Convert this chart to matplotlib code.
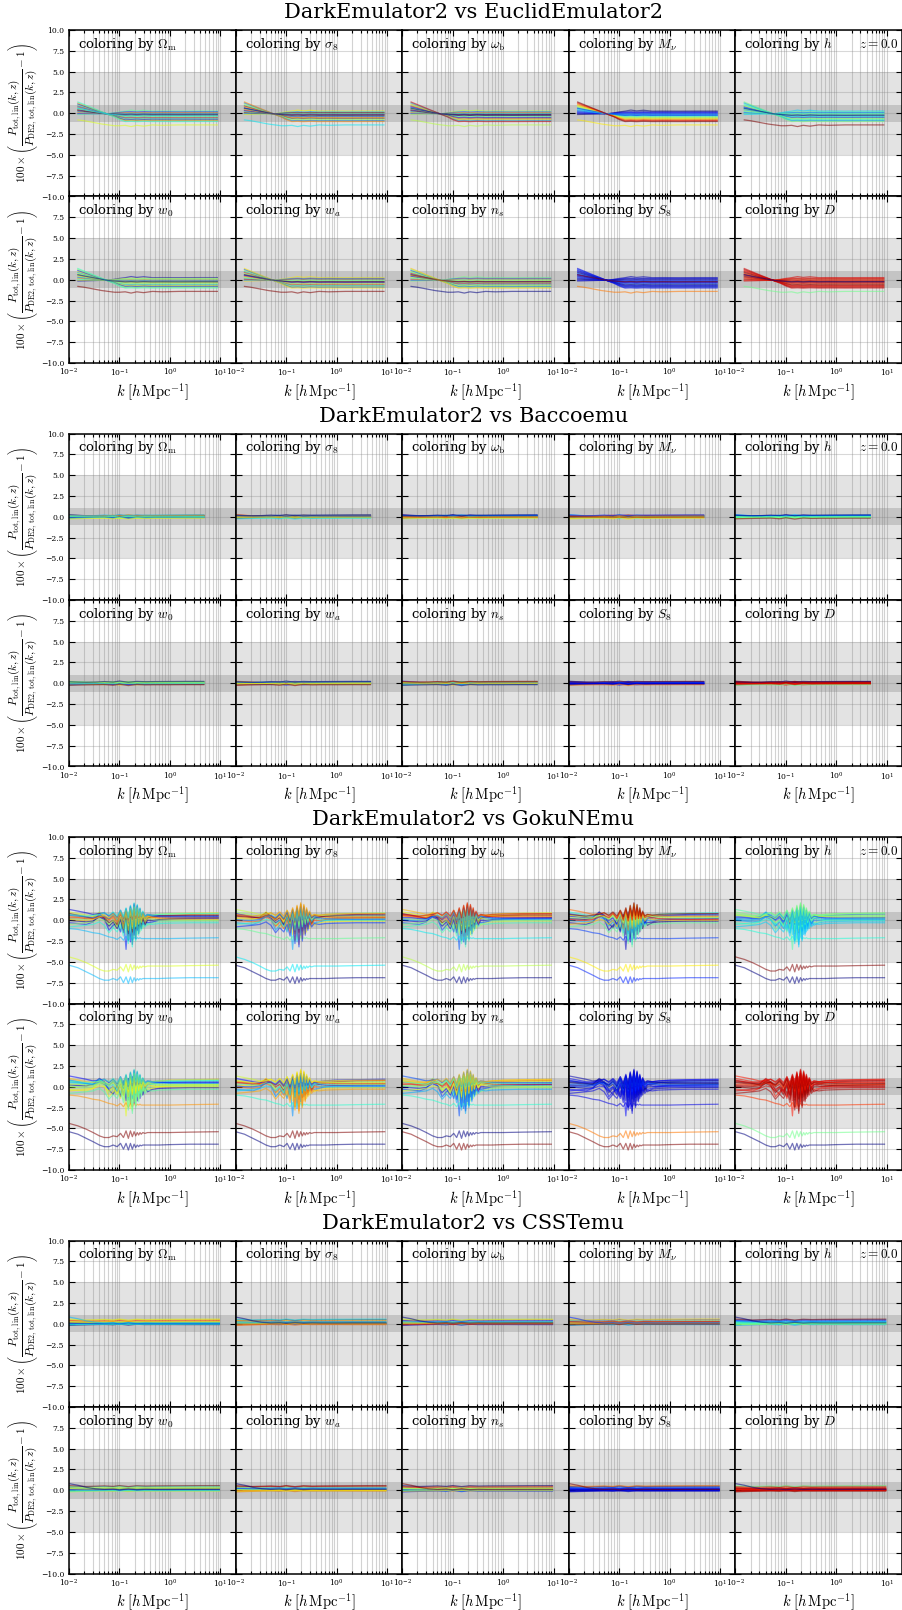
import numpy as np
import matplotlib
matplotlib.use("Agg")
import matplotlib.pyplot as plt
from matplotlib.colors import Normalize
from matplotlib.ticker import FuncFormatter, LogLocator, MultipleLocator, NullFormatter

plt.rcParams["font.family"] = "serif"
plt.rcParams["font.serif"] = ["DejaVu Serif"]
plt.rcParams["mathtext.fontset"] = "cm"
plt.rcParams["axes.unicode_minus"] = True

# ---------------------------------------------------------------------------
# Parameters of the 16 test cosmologies (one entry per curve)
# ---------------------------------------------------------------------------
OMEGA_M = [0.31, 0.27, 0.35, 0.29, 0.38, 0.25, 0.33, 0.30, 0.36, 0.28, 0.32, 0.26, 0.34, 0.30, 0.33, 0.29]
SIGMA_8 = [0.82, 0.76, 0.88, 0.79, 0.72, 0.85, 0.80, 0.74, 0.83, 0.87, 0.78, 0.81, 0.75, 0.84, 0.77, 0.71]
OMEGA_B = [0.0224, 0.0219, 0.0227, 0.0221, 0.0230, 0.0217, 0.0225, 0.0222,
           0.0218, 0.0228, 0.0223, 0.0226, 0.0220, 0.0229, 0.0224, 0.0216]
M_NU = [0.00, 0.03, 0.06, 0.09, 0.12, 0.15, 0.19, 0.23, 0.27, 0.31, 0.35, 0.40, 0.45, 0.50, 0.33, 0.08]
H0 = [0.66, 0.68, 0.64, 0.67, 0.70, 0.65, 0.69, 0.66, 0.63, 0.71, 0.67, 0.68, 0.65, 0.69, 0.78, 0.60]
W_0 = [-1.18, -0.95, -1.05, -0.90, -1.10, -0.98, -0.92, -1.02, -0.97, -1.08, -0.94, -1.15, -0.99, -1.03, -0.80, -1.20]
W_A = [0.10, -0.20, 0.30, -0.10, 0.00, 0.20, -0.30, 0.15, -0.05, 0.25, -0.15, 0.05, -0.25, 0.10, 0.35, -0.40]
N_S = [0.965, 0.950, 0.980, 0.960, 0.970, 0.945, 0.975, 0.955, 0.985, 0.960, 0.970, 0.950, 0.965, 0.975, 0.940, 0.990]
S_8 = [0.78, 0.80, 0.77, 0.79, 0.81, 0.78, 0.80, 0.79, 0.82, 0.77, 0.80, 0.78, 0.81, 0.79, 0.95, 1.00]
D_GROWTH = [0.97, 0.96, 0.98, 0.95, 0.97, 0.99, 0.96, 0.98, 0.95, 0.99, 0.97, 0.96, 0.98, 0.97, 0.85, 0.72]

PARAM_VALUES = [OMEGA_M, SIGMA_8, OMEGA_B, M_NU, H0, W_0, W_A, N_S, S_8, D_GROWTH]
PARAM_LABELS = [r"$\Omega_{\rm m}$", r"$\sigma_8$", r"$\omega_{\rm b}$", r"$M_\nu$", r"$h$",
                r"$w_0$", r"$w_a$", r"$n_s$", r"$S_8$", r"$D$"]

# ---------------------------------------------------------------------------
# Percent deviations 100*(P/P_DE2 - 1) at z = 0
# ---------------------------------------------------------------------------
EE2_K = [0.015, 0.02, 0.03, 0.045, 0.06, 0.08, 0.10, 0.13, 0.17, 0.22, 0.30, 0.45, 0.7, 1.5, 4.0, 8.7]
EE2_DEV = [
    [-0.15, -0.13, -0.10, -0.07, -0.05, 0.06, 0.16, 0.25, 0.38, 0.28, 0.36, 0.25, 0.26, 0.25, 0.26, 0.26],
    [-0.04, -0.04, -0.05, -0.05, -0.06, 0.02, 0.09, 0.15, 0.18, 0.14, 0.18, 0.15, 0.16, 0.15, 0.16, 0.16],
    [0.08, 0.05, 0.01, -0.03, -0.07, -0.02, 0.02, 0.06, 0.09, 0.05, 0.09, 0.06, 0.07, 0.06, 0.07, 0.07],
    [0.20, 0.14, 0.06, -0.02, -0.07, -0.06, -0.05, -0.04, -0.01, -0.05, -0.01, -0.04, -0.03, -0.04, -0.03, -0.03],
    [0.31, 0.23, 0.11, 0.00, -0.08, -0.10, -0.12, -0.14, -0.11, -0.15, -0.11, -0.14, -0.13, -0.14, -0.13, -0.13],
    [0.43, 0.32, 0.17, 0.02, -0.09, -0.14, -0.19, -0.23, -0.20, -0.24, -0.20, -0.23, -0.22, -0.23, -0.22, -0.22],
    [0.54, 0.41, 0.22, 0.04, -0.10, -0.18, -0.26, -0.33, -0.30, -0.34, -0.30, -0.33, -0.32, -0.33, -0.32, -0.32],
    [0.66, 0.50, 0.28, 0.06, -0.10, -0.21, -0.33, -0.42, -0.39, -0.43, -0.39, -0.42, -0.41, -0.42, -0.41, -0.41],
    [0.77, 0.59, 0.33, 0.07, -0.11, -0.25, -0.40, -0.52, -0.49, -0.53, -0.49, -0.52, -0.51, -0.52, -0.51, -0.51],
    [0.89, 0.68, 0.38, 0.09, -0.12, -0.29, -0.47, -0.62, -0.59, -0.63, -0.59, -0.62, -0.61, -0.62, -0.61, -0.61],
    [1.00, 0.77, 0.44, 0.11, -0.13, -0.33, -0.54, -0.71, -0.68, -0.72, -0.68, -0.71, -0.70, -0.71, -0.70, -0.70],
    [1.12, 0.86, 0.49, 0.13, -0.14, -0.37, -0.61, -0.81, -0.78, -0.82, -0.78, -0.81, -0.80, -0.81, -0.80, -0.80],
    [1.24, 0.95, 0.55, 0.15, -0.14, -0.41, -0.68, -0.90, -0.87, -0.91, -0.87, -0.90, -0.89, -0.90, -0.89, -0.89],
    [1.35, 1.04, 0.60, 0.17, -0.15, -0.45, -0.75, -1.00, -0.97, -1.01, -0.97, -1.00, -0.99, -1.00, -0.99, -0.99],
    [-0.80, -0.90, -1.10, -1.30, -1.40, -1.50, -1.50, -1.45, -1.60, -1.45, -1.55, -1.40, -1.45, -1.40, -1.40, -1.40],
    [0.60, 0.45, 0.25, 0.05, -0.09, -0.15, -0.20, -0.25, -0.22, -0.26, -0.22, -0.25, -0.24, -0.25, -0.24, -0.24],
]

BACCO_K = [0.01, 0.015, 0.022, 0.033, 0.05, 0.075, 0.1, 0.15, 0.22, 0.33, 0.5, 1.0, 2.0, 4.7]
BACCO_DEV = [
    [0.10, 0.08, 0.06, 0.05, 0.07, 0.12, 0.05, 0.15, 0.08, 0.12, 0.10, 0.10, 0.11, 0.12],
    [-0.05, -0.04, -0.03, -0.02, 0.00, -0.06, 0.02, -0.08, 0.00, -0.03, -0.02, -0.02, -0.01, -0.01],
    [0.20, 0.15, 0.10, 0.08, 0.06, 0.10, 0.02, 0.12, 0.05, 0.08, 0.06, 0.05, 0.05, 0.05],
    [-0.15, -0.12, -0.10, -0.08, -0.05, -0.10, -0.02, -0.15, -0.05, -0.10, -0.08, -0.07, -0.07, -0.08],
    [0.05, 0.04, 0.04, 0.05, 0.08, 0.02, 0.14, 0.00, 0.12, 0.05, 0.07, 0.08, 0.08, 0.09],
    [0.25, 0.18, 0.12, 0.08, 0.10, 0.15, 0.08, 0.20, 0.10, 0.15, 0.13, 0.14, 0.15, 0.16],
    [-0.10, -0.10, -0.12, -0.13, -0.15, -0.08, -0.22, -0.05, -0.18, -0.12, -0.13, -0.12, -0.12, -0.11],
    [0.00, 0.01, 0.02, 0.02, 0.03, 0.08, -0.02, 0.10, 0.00, 0.05, 0.03, 0.03, 0.04, 0.04],
    [0.15, 0.12, 0.10, 0.12, 0.14, 0.08, 0.20, 0.05, 0.18, 0.12, 0.14, 0.15, 0.16, 0.17],
    [-0.20, -0.15, -0.10, -0.06, -0.04, -0.12, 0.02, -0.18, -0.04, -0.10, -0.07, -0.06, -0.05, -0.05],
    [0.08, 0.05, 0.02, 0.00, -0.02, 0.04, -0.08, 0.06, -0.05, 0.00, -0.02, -0.03, -0.03, -0.02],
    [-0.08, -0.06, -0.05, -0.04, -0.06, -0.12, -0.04, -0.14, -0.08, -0.10, -0.09, -0.09, -0.10, -0.10],
    [0.12, 0.10, 0.09, 0.10, 0.12, 0.18, 0.10, 0.22, 0.12, 0.16, 0.15, 0.16, 0.17, 0.18],
    [0.02, 0.00, -0.02, -0.04, -0.05, 0.00, -0.10, 0.03, -0.08, -0.04, -0.05, -0.04, -0.04, -0.04],
    [-0.25, -0.22, -0.20, -0.18, -0.16, -0.24, -0.12, -0.28, -0.15, -0.20, -0.18, -0.18, -0.17, -0.17],
    [0.18, 0.14, 0.12, 0.14, 0.20, 0.14, 0.26, 0.12, 0.22, 0.18, 0.20, 0.21, 0.22, 0.22],
]

GOKU_K = [0.01, 0.015, 0.022, 0.03, 0.04, 0.05, 0.062, 0.075, 0.09, 0.105, 0.12, 0.135, 0.15, 0.165,
          0.18, 0.195, 0.21, 0.225, 0.24, 0.255, 0.27, 0.29, 0.32, 0.36, 0.45, 0.6, 1.0, 2.5, 9.0]
GOKU_DEV = [
    [0.2, 0.15, 0.1, 0.3, 1.0, 0.6, -0.4, -0.9, 0.2, -1.2, 0.7, -1.7, 1.0, -2.0, 1.2, -2.0, 1.0, -1.7, 0.7, -1.4, 0.4, -1.0, 0.0, -0.6, -0.3, -0.2, -0.15, -0.1, -0.1],
    [-0.3, -0.4, -0.5, -0.2, 0.8, 0.2, -1.2, -0.6, -0.3, -1.4, 0.2, -3.5, 0.3, -2.6, 0.4, -1.8, 0.2, -1.2, 0.0, -0.8, -0.1, -0.5, -0.2, -0.3, -0.2, 0.0, 0.1, 0.15, 0.2],
    [0.5, 0.4, 0.3, 0.4, 0.9, 0.5, 0.0, 0.3, -0.5, 0.6, -0.9, 0.9, -1.3, 1.1, -1.5, 1.0, -1.3, 0.8, -1.0, 0.6, -0.7, 0.4, -0.4, 0.2, 0.3, 0.5, 0.6, 0.7, 0.75],
    [-1.0, -1.1, -1.3, -1.5, -1.6, -1.8, -2.0, -2.1, -2.3, -2.0, -2.4, -1.9, -2.5, -2.0, -2.4, -2.0, -2.3, -2.1, -2.2, -2.1, -2.2, -2.2, -2.2, -2.2, -2.2, -2.2, -2.2, -2.15, -2.1],
    [0.8, 0.6, 0.4, 0.2, 0.5, 0.3, -0.3, 0.0, -0.6, 0.3, -1.0, 0.7, -1.6, 1.0, -1.4, 1.3, -1.0, 1.0, -0.6, 0.7, -0.3, 0.5, -0.1, 0.3, 0.4, 0.5, 0.55, 0.6, 0.6],
    [0.0, -0.1, -0.2, -0.1, 0.4, 0.1, -0.7, -0.2, -1.0, 0.1, -1.5, 0.5, -2.4, 0.6, -2.9, 0.9, -2.2, 0.8, -1.6, 0.5, -1.0, 0.2, -0.6, 0.0, 0.0, 0.1, 0.2, 0.25, 0.3],
    [1.0, 0.8, 0.6, 0.5, 0.6, 0.5, 0.2, 0.6, 0.0, 0.9, -0.3, 1.2, -0.6, 1.4, -0.8, 1.6, -0.7, 1.4, -0.4, 1.1, -0.2, 0.8, 0.1, 0.5, 0.6, 0.7, 0.8, 0.85, 0.9],
    [-0.8, -0.7, -0.6, -0.5, -0.2, -0.6, -1.5, -0.9, -1.4, -0.5, -1.9, 0.0, -2.8, 0.2, -3.2, 0.4, -2.5, 0.3, -1.8, 0.1, -1.2, -0.2, -0.8, -0.4, -0.5, -0.4, -0.35, -0.3, -0.3],
    [0.3, 0.3, 0.2, 0.2, 0.5, 0.4, 0.1, 0.5, -0.2, 0.8, -0.4, 1.1, -0.5, 1.5, -0.6, 1.8, -0.5, 1.6, -0.3, 1.2, 0.0, 0.8, 0.2, 0.5, 0.4, 0.3, 0.3, 0.3, 0.3],
    [0.6, 0.5, 0.4, 0.3, 0.6, 0.5, 0.2, 0.7, 0.1, 1.0, -0.2, 1.3, -0.3, 1.6, -0.2, 1.9, 0.0, 1.7, 0.1, 1.3, 0.2, 0.9, 0.3, 0.6, 0.5, 0.45, 0.4, 0.4, 0.4],
    [-0.5, -0.4, -0.3, -0.2, 0.1, 0.0, -0.5, 0.0, -0.8, 0.4, -1.0, 0.8, -1.2, 1.2, -1.0, 1.5, -0.8, 1.3, -0.5, 1.0, -0.3, 0.6, -0.1, 0.3, 0.1, 0.0, 0.0, 0.0, 0.0],
    [1.3, 1.1, 0.9, 0.7, 0.8, 0.9, 0.5, 0.9, 0.3, 1.2, 0.2, 1.4, 0.0, 1.7, 0.1, 2.0, 0.2, 1.8, 0.3, 1.4, 0.4, 1.0, 0.5, 0.7, 0.6, 0.55, 0.5, 0.5, 0.5],
    [0.1, 0.0, 0.0, 0.1, 0.4, 0.6, 0.3, 0.8, 0.2, 1.0, 0.0, 1.2, -0.1, 1.4, 0.0, 1.6, 0.1, 1.5, 0.2, 1.2, 0.2, 0.9, 0.3, 0.5, 0.3, 0.2, 0.15, 0.1, 0.1],
    [0.7, 0.6, 0.5, 0.6, 0.7, 0.9, 0.6, 1.0, 0.5, 1.2, 0.4, 1.5, 0.3, 1.8, 0.5, 2.1, 0.6, 1.9, 0.5, 1.5, 0.5, 1.1, 0.5, 0.7, 0.6, 0.7, 0.75, 0.8, 0.8],
    [-4.4, -4.7, -5.1, -5.5, -5.9, -6.1, -6.1, -5.9, -6.0, -5.6, -6.1, -5.3, -6.2, -5.3, -6.0, -5.4, -5.9, -5.5, -5.8, -5.5, -5.7, -5.5, -5.6, -5.5, -5.5, -5.5, -5.5, -5.45, -5.4],
    [-5.4, -5.7, -6.2, -6.6, -7.0, -7.2, -7.2, -7.0, -7.2, -6.8, -7.5, -6.8, -7.6, -6.8, -7.5, -6.9, -7.3, -7.0, -7.2, -7.0, -7.1, -7.0, -7.0, -7.0, -7.0, -7.0, -6.95, -6.9, -6.9],
]

CSST_K = [0.01, 0.015, 0.022, 0.033, 0.05, 0.075, 0.1, 0.15, 0.22, 0.33, 0.5, 1.0, 2.0, 4.0, 9.5]
CSST_DEV = [
    [0.30, 0.25, 0.20, 0.18, 0.20, 0.25, 0.18, 0.28, 0.20, 0.25, 0.22, 0.22, 0.23, 0.24, 0.24],
    [0.05, 0.04, 0.03, 0.02, 0.04, 0.08, 0.00, 0.10, 0.02, 0.06, 0.04, 0.04, 0.05, 0.05, 0.05],
    [0.45, 0.42, 0.40, 0.42, 0.45, 0.40, 0.50, 0.38, 0.48, 0.44, 0.45, 0.46, 0.47, 0.48, 0.48],
    [-0.10, -0.08, -0.06, -0.05, -0.04, -0.08, 0.00, -0.10, -0.03, -0.06, -0.05, -0.05, -0.05, -0.05, -0.05],
    [0.12, 0.10, 0.08, 0.07, 0.08, 0.04, 0.14, 0.02, 0.12, 0.07, 0.09, 0.09, 0.10, 0.10, 0.10],
    [-0.20, -0.16, -0.13, -0.10, -0.08, -0.12, -0.04, -0.16, -0.06, -0.10, -0.09, -0.09, -0.10, -0.10, -0.10],
    [0.20, 0.15, 0.12, 0.10, 0.12, 0.18, 0.08, 0.20, 0.10, 0.15, 0.13, 0.13, 0.14, 0.14, 0.15],
    [0.00, 0.00, 0.01, 0.02, 0.00, -0.04, 0.06, -0.06, 0.04, 0.00, 0.01, 0.01, 0.01, 0.02, 0.02],
    [0.38, 0.34, 0.30, 0.30, 0.32, 0.28, 0.38, 0.26, 0.36, 0.32, 0.33, 0.34, 0.35, 0.35, 0.36],
    [-0.05, -0.04, -0.03, -0.02, 0.02, 0.06, -0.02, 0.08, 0.00, 0.04, 0.02, 0.02, 0.03, 0.03, 0.03],
    [0.15, 0.12, 0.10, 0.12, 0.16, 0.12, 0.22, 0.10, 0.20, 0.15, 0.17, 0.17, 0.18, 0.18, 0.18],
    [0.08, 0.06, 0.05, 0.04, 0.03, 0.07, -0.02, 0.09, 0.00, 0.04, 0.03, 0.03, 0.03, 0.03, 0.03],
    [0.25, 0.22, 0.20, 0.22, 0.24, 0.30, 0.20, 0.32, 0.22, 0.27, 0.25, 0.26, 0.26, 0.27, 0.27],
    [-0.12, -0.10, -0.08, -0.07, -0.05, -0.02, -0.10, 0.00, -0.08, -0.04, -0.05, -0.05, -0.04, -0.04, -0.04],
    [0.55, 0.50, 0.45, 0.48, 0.52, 0.46, 0.56, 0.44, 0.54, 0.50, 0.52, 0.53, 0.54, 0.55, 0.55],
    [0.80, 0.60, 0.35, 0.18, 0.10, 0.14, 0.06, 0.16, 0.08, 0.12, 0.10, 0.10, 0.11, 0.11, 0.11],
]

COMPARISONS = [
    ("DarkEmulator2 vs EuclidEmulator2", EE2_K, EE2_DEV),
    ("DarkEmulator2 vs Baccoemu", BACCO_K, BACCO_DEV),
    ("DarkEmulator2 vs GokuNEmu", GOKU_K, GOKU_DEV),
    ("DarkEmulator2 vs CSSTemu", CSST_K, CSST_DEV),
]

YLABEL = (r"$100\times\left(\dfrac{P_{\rm tot,\,lin}(k,z)}"
          r"{P_{\rm DE2,\,tot,\,lin}(k,z)}-1\right)$")
XLABEL = r"$k\;[h\,{\rm Mpc}^{-1}]$"

# ---------------------------------------------------------------------------
# Layout (pixel based)
# ---------------------------------------------------------------------------
W, H = 903, 1610
fig = plt.figure(figsize=(W / 100, H / 100), dpi=100)
LEFT, RIGHT = 69.0, 902.0
PW = (RIGHT - LEFT) / 5
PH = 166.5
BLOCK_TOPS = [30.0, 433.5, 837.0, 1240.5]

cmap = plt.get_cmap("jet")


def ytick_text(v, _):
    return f"{v:.1f}".replace("-", "\u2212")


def ytick_text_lower(v, _):
    # the top label of a lower panel would sit on the bottom label of the panel above
    if v > 9.99:
        return ""
    return ytick_text(v, _)


for (title, kk, dev), top in zip(COMPARISONS, BLOCK_TOPS):
    fig.text(473.5 / W, 1 - (top - 17.5) / H, title, ha="center", va="center", fontsize=15)
    for row in range(2):
        for col in range(5):
            p = row * 5 + col
            x0 = LEFT + col * PW
            y_top = top + row * PH
            ax = fig.add_axes([x0 / W, 1 - (y_top + PH) / H, PW / W, PH / H])
            ax.set_xscale("log")
            ax.set_xlim(1e-2, 20)
            ax.set_ylim(-10, 10)

            ax.axhspan(-5, 5, color="#e3e3e3", lw=0, zorder=0)
            ax.axhspan(-1, 1, color="#c4c4c4", lw=0, zorder=0.1)
            ax.set_axisbelow(True)
            ax.grid(True, which="both", axis="x", color="grey", alpha=0.35, lw=0.8)
            ax.grid(True, which="major", axis="y", color="grey", alpha=0.3, lw=0.8)

            vals = PARAM_VALUES[p]
            norm = Normalize(min(vals), max(vals))
            for j, curve in enumerate(dev):
                ax.plot(kk, curve, color=cmap(norm(vals[j])), lw=0.9, alpha=0.55, zorder=2)

            ax.text(0.054, 0.915, "coloring by " + PARAM_LABELS[p], transform=ax.transAxes,
                    ha="left", va="center", fontsize=9.5, zorder=5)
            if row == 0 and col == 4:
                ax.text(0.975, 0.915, r"$z=0.0$", transform=ax.transAxes,
                        ha="right", va="center", fontsize=9.5, zorder=5)

            ax.yaxis.set_major_locator(MultipleLocator(2.5))
            ax.yaxis.set_major_formatter(FuncFormatter(ytick_text_lower if row == 1 else ytick_text))
            ax.xaxis.set_major_locator(LogLocator(base=10, numticks=10))
            ax.xaxis.set_minor_locator(LogLocator(base=10, subs=np.arange(2, 10), numticks=10))
            ax.xaxis.set_minor_formatter(NullFormatter())
            ax.tick_params(which="both", direction="in", top=True, right=True,
                           labelsize=5.5, width=0.8, color="black")
            ax.tick_params(which="major", length=4)
            ax.tick_params(which="minor", length=2)
            ax.tick_params(axis="x", pad=3)
            ax.tick_params(labelleft=(col == 0), labelbottom=(row == 1))
            for s in ax.spines.values():
                s.set_linewidth(1.1)

            if col == 0:
                ax.set_ylabel(YLABEL, fontsize=8)
                ax.yaxis.set_label_coords(-0.175, 0.5)
            if row == 1:
                ax.set_xlabel(XLABEL, fontsize=10.5, labelpad=2)

fig.savefig("out.png", dpi=100)
